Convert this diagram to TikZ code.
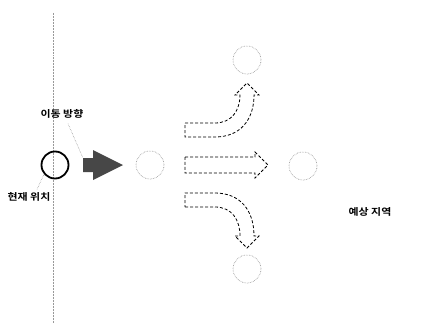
\documentclass[tikz,border=0pt]{standalone}
\usepackage{fontspec}
\newfontfamily\kr{Noto Sans CJK KR}[BoldFont={* Bold}]
\begin{document}
\begin{tikzpicture}[x=1pt,y=-1pt,
  spot/.style={circle,draw=black!45,densely dotted,line width=0.6pt,minimum size=28pt,inner sep=0pt},
  curspot/.style={circle,draw=black,line width=1.8pt,minimum size=27pt,inner sep=0pt},
  lbl/.style={font=\kr\bfseries\fontsize{9.5}{11}\selectfont,inner sep=1pt,xscale=1.15},
  leader/.style={draw=black!50,densely dotted,line width=0.5pt},
  dasharrow/.style={draw=black,line width=0.8pt,dash pattern=on 3pt off 2pt,line join=miter}]
\useasboundingbox (0,0) rectangle (436,329);
\fill[white] (0,0) rectangle (436,329);
% vertical guide
\coordinate (vtop) at (53,13);
\coordinate (vbot) at (53,323);
\draw[draw=black!40,densely dotted,line width=0.5pt] (vtop) -- (vbot);
% circles
\node[curspot] (cur) at (55,165) {};
\node[spot] (mid) at (150,165) {};
\node[spot] (top) at (247,60) {};
\node[spot] (right) at (303,166) {};
\node[spot] (bot) at (247,269) {};
% big movement arrow
\fill[black!72] (83,158) -- (93,158) -- (93,150) -- (123,165) -- (93,180) -- (93,172) -- (83,172) -- cycle;
\coordinate (bigarrow) at (83,158);
% dashed arrows
\draw[dasharrow] (185,123) -- (215,123) .. controls (232,123) and (240,110) .. (240,95) -- (235,95) -- (247,83) -- (259,95) -- (254,95) .. controls (254,120) and (240,137) .. (215,137) -- (185,137) -- cycle;
\draw[dasharrow] (185,157) -- (255,157) -- (255,152) -- (268,165) -- (255,178) -- (255,173) -- (185,173) -- cycle;
\draw[dasharrow] (185,207) -- (215,207) .. controls (232,207) and (240,220) .. (240,236) -- (235,236) -- (247,248) -- (259,236) -- (254,236) .. controls (254,210) and (240,193) .. (215,193) -- (185,193) -- cycle;
% labels
\node[lbl] (dir) at (62,114) {이동 방향};
\node[lbl] (pos) at (29,197) {현재 위치};
\node[lbl] (pred) at (370,212) {예상 지역};
% leaders
\draw[leader] (dir.south) ++(6,4) -- (bigarrow);
\draw[leader] (pos.north) ++(8,-2) -- (cur.220);
\end{tikzpicture}
\end{document}
